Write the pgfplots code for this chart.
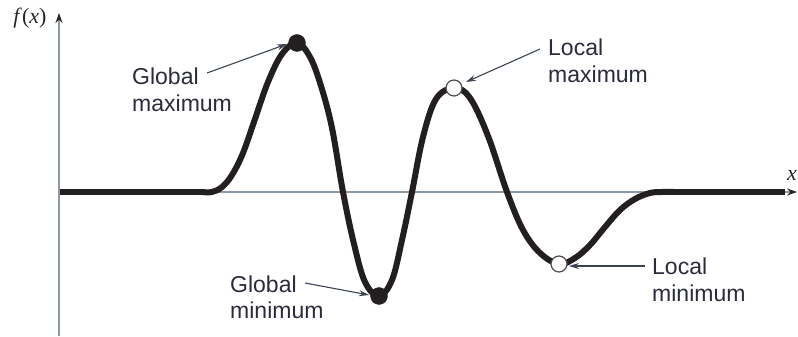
\documentclass[border=0pt]{standalone}
\usepackage{pgfplots}
\pgfplotsset{compat=1.18}
\usepackage{fontspec}
\setmainfont{Liberation Sans}
\newfontfamily\serifface{Liberation Serif}
\usetikzlibrary{arrows.meta}

\definecolor{curve}{HTML}{231F20}
\definecolor{axiscol}{HTML}{8C99A3}
\definecolor{labelcol}{HTML}{2A2C3C}
\definecolor{arrowcol}{HTML}{3A4450}

\tikzset{
  note/.style={anchor=base west, inner sep=0pt, text=labelcol,
    font=\fontsize{23bp}{27bp}\selectfont},
  pointer/.style={arrowcol, line width=1.1bp, -{Stealth[length=10bp,width=6bp]}},
  varname/.style={inner sep=0pt, text=black!85,
    font=\fontsize{22bp}{25bp}\selectfont\serifface},
}

\begin{document}
\begin{tikzpicture}
\begin{axis}[
  hide axis,
  scale only axis,
  width=798bp, height=336bp,
  xmin=0, xmax=798, ymin=-144, ymax=192,
  clip=false,
]
% frame of the picture
\path (axis cs:0,-144) rectangle (axis cs:798,192);

% coordinate axes
\draw[axiscol, line width=1.5bp, -{Stealth[length=10bp,width=7bp,color=black!85]}]
  (axis cs:59,-144) -- (axis cs:59,179);
\draw[axiscol, line width=1.5bp, -{Stealth[length=10bp,width=7bp,color=black!85]}]
  (axis cs:59,0) -- (axis cs:797,0);

% the function: flat tails
\addplot[curve, line width=6bp] coordinates {(60,0) (205,0)};
\addplot[curve, line width=6bp] coordinates {(670,0) (785,0)};
% the function: oscillating part
\addplot[curve, line width=6bp, smooth, tension=0.6, line join=round] coordinates {
  (202,0) (212,0) (222,5) (232,17) (243,39) (255,73) (268,110)
  (282,138) (297,149) (310,135) (321,106) (332,64) (343,0) (354,-52)
  (365,-90) (379,-104) (392,-88) (402,-48) (412,0) (423,55) (436,93)
  (454,104) (470,94) (488,56) (507,0) (523,-38) (540,-61) (559,-72)
  (575,-66) (590,-53) (605,-35) (620,-18) (635,-7) (650,-1) (662,0)
  (674,0)
};

% global extrema
\addplot[only marks, mark=*, mark size=8.5bp, mark options={fill=curve, draw=curve}]
  coordinates {(297,149) (379,-104)};
% local extrema
\addplot[only marks, mark=*, mark size=8bp, mark options={fill=white, draw=black!70, line width=1.2bp}]
  coordinates {(454,104) (559,-72)};

% annotations
\node[note] at (axis cs:132,107) {Global};
\node[note] at (axis cs:132,80) {maximum};
\node[note] at (axis cs:548,136) {Local};
\node[note] at (axis cs:548,109) {maximum};
\node[note] at (axis cs:230,-101) {Global};
\node[note] at (axis cs:230,-126) {minimum};
\node[note] at (axis cs:652,-83) {Local};
\node[note] at (axis cs:652,-110) {minimum};

\draw[pointer] (axis cs:207,119) -- (axis cs:287,148);
\draw[pointer] (axis cs:540,143) -- (axis cs:466,110);
\draw[pointer] (axis cs:305,-91) -- (axis cs:369,-103);
\draw[pointer] (axis cs:645,-74) -- (axis cs:569,-74);

% axis names
\node[varname, anchor=base] at (axis cs:30,168)
  {\itshape f\/\upshape(\itshape x\/\upshape)};
\node[varname, anchor=base east] at (axis cs:797,11) {\itshape x};
\end{axis}
\end{tikzpicture}
\end{document}
